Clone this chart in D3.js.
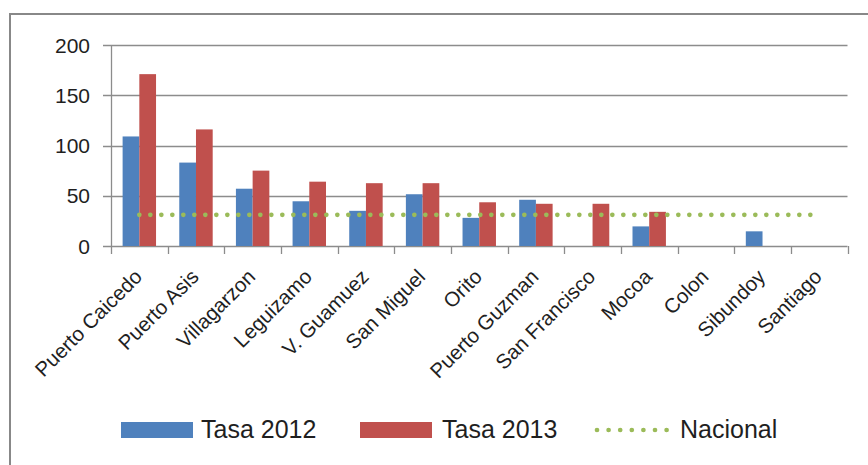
<!DOCTYPE html>
<html>
<head>
<meta charset="utf-8">
<script src="https://cdn.jsdelivr.net/npm/d3@7/dist/d3.min.js"></script>
<style>
  html,body{margin:0;padding:0;background:#fff;}
  svg{display:block;font-family:"Liberation Sans",Arial,sans-serif;}
</style>
</head>
<body>
<svg id="chart" width="868" height="465"></svg>
<script>
const categories=['Puerto Caicedo','Puerto Asis','Villagarzon','Leguizamo','V. Guamuez','San Miguel','Orito','Puerto Guzman','San Francisco','Mocoa','Colon','Sibundoy','Santiago'];
const tasa2012=[109,83,57,44.5,35,51.5,28,46,null,19.5,null,14.6,null];
const tasa2013=[171,116,75,64,62.5,62.5,43.5,42,42,34,null,null,null];
const nacional=31;
const yTicks=[0,50,100,150,200];
const seriesNames=['Tasa 2012','Tasa 2013','Nacional'];

(function(){
const colors={blue:'#4F81BD',red:'#C0504D',green:'#9BBB59',grid:'#8c8c8c',text:'#1f1f1f'};

const svg=d3.select('#chart');

// outer frame (extends past right/bottom edges like the cropped original)
svg.append('rect').attr('x',10).attr('y',14).attr('width',900).attr('height',500)
  .attr('fill','none').attr('stroke','#888').attr('stroke-width',2);

const pl=111,pr=847.5,pt=45,pb=246;
const x=d3.scaleBand().domain(categories).range([pl,pr]).padding(0);
const xs=d3.scaleBand().domain(['2012','2013']).range([0,x.bandwidth()]).paddingInner(0).paddingOuter(0.695);
const y=d3.scaleLinear().domain([0,200]).range([pb,pt]);

// gridlines + y ticks
const gy=svg.append('g');
gy.selectAll('line.grid').data(yTicks).enter().append('line')
  .attr('x1',pl-8).attr('x2',pr).attr('y1',d=>Math.round(y(d))+0.5).attr('y2',d=>Math.round(y(d))+0.5)
  .attr('stroke',colors.grid).attr('stroke-width',1.3);
gy.selectAll('text').data(yTicks).enter().append('text')
  .attr('x',90).attr('y',d=>y(d)).attr('dy','0.36em').attr('text-anchor','end')
  .attr('font-size',21).attr('fill',colors.text).text(d=>d);

// y axis line
svg.append('line').attr('x1',pl+0.5).attr('x2',pl+0.5).attr('y1',pt).attr('y2',pb)
  .attr('stroke',colors.grid).attr('stroke-width',1.3);

// x ticks
const tickPos=categories.map(c=>x(c)).concat([pr]);
svg.selectAll('line.xt').data(tickPos).enter().append('line')
  .attr('x1',d=>Math.round(d)+0.5).attr('x2',d=>Math.round(d)+0.5).attr('y1',pb).attr('y2',pb+8)
  .attr('stroke',colors.grid).attr('stroke-width',1.3);

// bars
const rows=categories.map((c,i)=>({c,v12:tasa2012[i],v13:tasa2013[i]}));
const g=svg.append('g');
g.selectAll('rect.b12').data(rows.filter(d=>d.v12!=null)).enter().append('rect')
  .attr('x',d=>x(d.c)+xs('2012')).attr('width',xs.bandwidth())
  .attr('y',d=>y(d.v12)).attr('height',d=>y(0)-y(d.v12)).attr('fill',colors.blue);
g.selectAll('rect.b13').data(rows.filter(d=>d.v13!=null)).enter().append('rect')
  .attr('x',d=>x(d.c)+xs('2013')).attr('width',xs.bandwidth())
  .attr('y',d=>y(d.v13)).attr('height',d=>y(0)-y(d.v13)).attr('fill',colors.red);

// Nacional dotted line
const line=d3.line().x(d=>x(d)+x.bandwidth()/2).y(()=>y(nacional));
svg.append('path').attr('d',line(categories)).attr('fill','none')
  .attr('stroke',colors.green).attr('stroke-width',4.7).attr('stroke-linecap','round')
  .attr('stroke-dasharray','0 11');

// x labels
svg.selectAll('text.xl').data(categories).enter().append('text')
  .attr('text-anchor','end').attr('font-size',20.5).attr('fill',colors.text)
  .attr('transform',d=>`translate(${x(d)+x.bandwidth()/2+4},278) rotate(-45)`)
  .text(d=>d);

// legend
const lg=svg.append('g');
lg.append('rect').attr('x',121).attr('y',422).attr('width',72).attr('height',16).attr('fill',colors.blue);
lg.append('text').attr('x',201).attr('y',438).attr('font-size',25).attr('fill',colors.text).text(seriesNames[0]);
lg.append('rect').attr('x',360).attr('y',422).attr('width',72).attr('height',16).attr('fill',colors.red);
lg.append('text').attr('x',442).attr('y',438).attr('font-size',25).attr('fill',colors.text).text(seriesNames[1]);
lg.append('line').attr('x1',597).attr('x2',667).attr('y1',430).attr('y2',430)
  .attr('stroke',colors.green).attr('stroke-width',4.7).attr('stroke-linecap','round').attr('stroke-dasharray','0 11.6');
lg.append('text').attr('x',680).attr('y',438).attr('font-size',25).attr('fill',colors.text).text(seriesNames[2]);
})();
</script>
</body>
</html>
